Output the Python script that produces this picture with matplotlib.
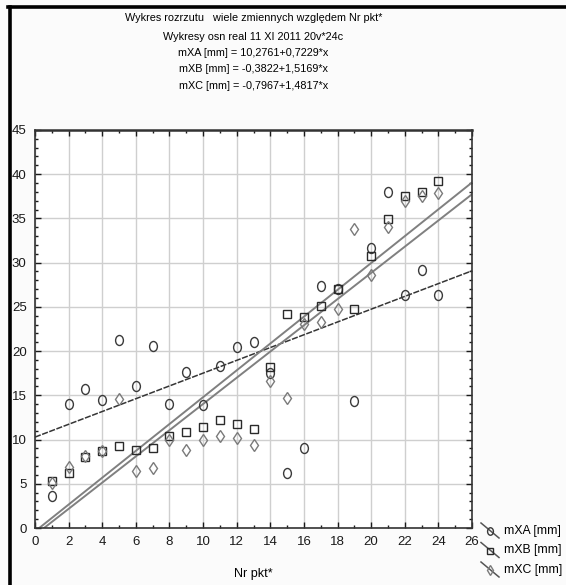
import numpy as np
import matplotlib
matplotlib.use("Agg")
import matplotlib.pyplot as plt
from matplotlib.path import Path
from matplotlib.transforms import Affine2D
from matplotlib.lines import Line2D

plt.rcParams['font.family'] = ['Liberation Sans Narrow', 'Liberation Sans', 'DejaVu Sans']

# dane
nr_pkt = list(range(1, 25))
mXA = [3.6, 14.0, 15.7, 14.5, 21.2, 16.1, 20.6, 14.0, 17.6, 13.9, 18.3, 20.5,
       21.0, 17.5, 6.2, 9.1, 27.3, 27.0, 14.4, 31.6, 38.0, 26.3, 29.2, 26.3]
mXB = [5.3, 6.2, 8.05, 8.7, 9.3, 8.8, 9.1, 10.4, 10.9, 11.4, 12.2, 11.8,
       11.2, 18.2, 24.2, 23.8, 25.1, 27.0, 24.8, 30.8, 34.9, 37.5, 38.0, 39.2]
mXC = [5.1, 6.9, 8.1, 8.7, 14.6, 6.4, 6.8, 10.0, 8.8, 9.9, 10.45, 10.2,
       9.4, 16.6, 14.7, 23.1, 23.3, 24.7, 33.85, 28.6, 34.0, 37.0, 37.5, 37.85]

series_names = ['mXA [mm]', 'mXB [mm]', 'mXC [mm]']
intercepts = [10.2761, -0.3822, -0.7967]
slopes = [0.7229, 1.5169, 1.4817]

title_lines = [
    "Wykres rozrzutu   wiele zmiennych względem Nr pkt*",
    "Wykresy osn real 11 XI 2011 20v*24c",
    "mXA [mm] = 10,2761+0,7229*x",
    "mXB [mm] = -0,3822+1,5169*x",
    "mXC [mm] = -0,7967+1,4817*x",
]

# owalny znacznik (kolko lekko wydluzone w pionie)
oval = Path.unit_circle().transformed(Affine2D().scale(0.78, 1.0))

styles = [
    dict(marker=oval, ms=7.2, mec='#3a3a3a', mew=1.0),
    dict(marker='s', ms=6.3, mec='#2a2a2a', mew=1.0),
    dict(marker='d', ms=6.3, mec='#7a7a7a', mew=1.0),
]
line_styles = [
    dict(color='#353535', lw=1.1, ls=(0, (4, 1))),
    dict(color='#808080', lw=1.4, ls='-'),
    dict(color='#808080', lw=1.4, ls='-'),
]

fig = plt.figure(figsize=(5.66, 5.85), dpi=100, facecolor='#fbfbfb')
ax = fig.add_axes([0.0618, 0.0974, 0.7722, 0.6806])
ax.set_facecolor('white')

xs = np.array([0, 26])
for data, st, lst, a, b in zip([mXA, mXB, mXC], styles, line_styles, intercepts, slopes):
    ax.plot(xs, a + b * xs, zorder=2, **lst)
    ax.plot(nr_pkt, data, ls='none', mfc='none', zorder=3, **st)

ax.set_xlim(0, 26)
ax.set_ylim(0, 45)
ax.set_xticks(range(0, 27, 2))
ax.set_xticks(range(0, 27, 1), minor=True)
ax.set_yticks(range(0, 46, 5))
ax.set_yticks(range(0, 46, 1), minor=True)
ax.grid(True, which='major', color='#cfcfcf', lw=1.0)
ax.set_axisbelow(True)
ax.tick_params(which='both', direction='in', top=True, right=True,
               labelsize=9.5, colors='#1a1a1a', pad=6)
ax.tick_params(which='major', length=4, width=1)
ax.tick_params(which='minor', length=2.5, width=1)
for s in ax.spines.values():
    s.set_color('#333333')
    s.set_linewidth(1.2)
ax.spines['top'].set_linewidth(1.8)

ax.set_xlabel('Nr pkt*', fontsize=9, labelpad=14)

# tytul - kilka linii wycentrowanych nad osiami
cx = 0.0618 + 0.7722 / 2
title_y = [18.3, 36.7, 53.3, 69.5, 85.8]
for t, yp in zip(title_lines, title_y):
    fig.text(cx, 1 - yp / 585, t, ha='center', va='center', fontsize=7.8)

# legenda poza osiami w prawym dolnym rogu
W, H = 566, 585
for i, (name, st, lst) in enumerate(zip(series_names, styles, line_styles)):
    yc = 531 + i * 19.5
    fig.add_artist(Line2D([481 / W, 499 / W], [1 - (yc - 8) / H, 1 - (yc + 7) / H],
                          color='#555555', lw=1.1, transform=fig.transFigure))
    fig.add_artist(Line2D([490 / W], [1 - yc / H], ls='none', mfc='none',
                          transform=fig.transFigure,
                          **dict(st, ms=st['ms'] * 0.75)))
    fig.text(504 / W, 1 - yc / H, name, ha='left', va='center', fontsize=8.8)

# ramka
fig.add_artist(Line2D([9.5 / W, 9.5 / W], [0, 1 - 6.5 / H], color='black', lw=2.6,
                      transform=fig.transFigure))
fig.add_artist(Line2D([8.2 / W, 1], [1 - 6.5 / H, 1 - 6.5 / H], color='black', lw=2.6,
                      transform=fig.transFigure))

fig.savefig('out.png', dpi=100, facecolor=fig.get_facecolor())
